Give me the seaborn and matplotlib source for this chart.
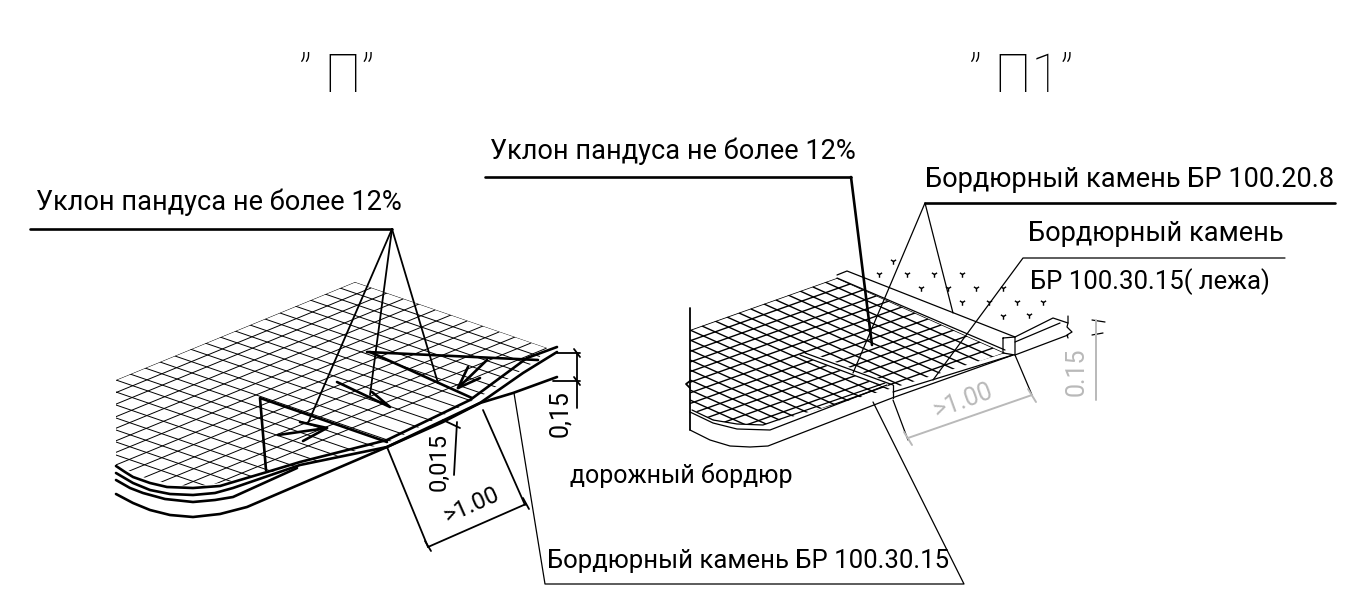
#!/usr/bin/env python3
# ramp details "П" and "П1" redrawn as line work, all coordinates (pixels)
import matplotlib
matplotlib.use('Agg')
import matplotlib.pyplot as plt
from matplotlib.patches import Polygon
import seaborn as sns

sns.set_theme(style='white')
plt.rcParams['font.family'] = ['Roboto', 'DejaVu Sans']
plt.rcParams['text.color'] = 'black'

GREY = '#b9b9b9'

# paving grid, left detail
left_b_x0 = [355,340,325,310,295,280,265,250,235,220,205,190,175,160,145,130,116,116,116,116,116,116,116]
left_b_y0 = [282,288,294,300,306,313,319,325,331,337,343,349,356,362,368,374,380,392,405,418,430,442,455]
left_b_x1 = [635,620,605,590,575,560,545,530,515,500,485,470,455,440,425,410,396,396,396,396,396,396,396]
left_b_y1 = [378,384,390,396,402,409,415,421,427,433,439,445,452,458,464,470,476,488,501,514,526,538,551]
left_a_x0 = [355,371,387,403,419,435,451,467,483,499,515,531,547]
left_a_y0 = [282,288,293,299,304,310,315,321,326,332,337,343,348]
left_a_x1 = [-45,-29,-13,3,19,35,51,67,83,99,115,131,147]
left_a_y1 = [446,452,457,463,468,474,479,485,490,496,501,507,512]
left_outline = [(355,282),(547,348),(537,360),(480,397),(387,443),(300,465),(240,480),(193,487),(150,480),(116,465),(116,380)]

# paving grid, right detail
right_b_x0 = [837,825,813,800,788,776,764,751,739,727,715,702,690,690,690,690,690,690,690,690,690]
right_b_y0 = [278,282,287,291,295,300,304,309,313,317,321,326,330,340,350,360,370,380,390,400,410]
right_b_x1 = [1137,1125,1113,1100,1088,1076,1064,1051,1039,1027,1015,1002,990,990,990,990,990,990,990,990,990]
right_b_y1 = [412,416,421,425,429,434,438,443,447,451,455,460,464,474,484,494,504,514,524,534,544]
right_a_x0 = [837,850,863,876,889,902,915,928,941,954,967,980,993,1005]
right_a_y0 = [278,284,290,296,301,307,313,319,325,330,336,342,348,353]
right_a_x1 = [437,450,463,476,489,502,515,528,541,554,567,580,593,605]
right_a_y1 = [420,426,432,438,443,449,455,461,467,472,478,484,490,495]
right_outline = [(837,278),(1005,353),(893,388),(763,425),(737,424),(713,420),(690,408),(690,330)]
# light strip across the right grid
strip = [(808,355),(885,384)]

# heavy lines
left_heavy = [
    [(116,466),(125,472),(133,477),(150,483),(167,487),(193,488),(220,486),(240,480),(267,472),(300,462),(387,440),(470,400),(527,358),(557,347)],
    [(116,473),(133,483),(150,490),(170,494),(193,495),(215,493),(233,488),(300,465),(387,447),(480,403),(523,373),(557,352)],
    [(116,480),(130,488),(143,493),(165,499),(193,502),(215,500),(233,497),(297,468)],
    [(116,494),(133,503),(150,510),(170,515),(193,517),(220,514),(247,507),(387,447),(443,422),(480,403),(513,393),(557,377)],
    [(387,442),(260,398),(266,470)],
    [(367,352),(538,360)],
    [(370,352),(472,398)],
    [(278,435),(327,428),(300,422)],
    [(327,428),(303,441)],
    [(337,382),(390,407),(372,392)],
    [(487,360),(458,388),(468,367)],
    [(458,388),(480,378)],
    [(30,229),(392,229)],
    [(485,177),(851,177)],
    [(925,203),(1335,203)],
    [(851,177),(872,345)],
]
# medium lines
medium = [
    [(392,229),(308,423)],
    [(392,229),(370,395)],
    [(392,229),(438,383)],
    [(387,447),(428,547)],
    [(483,410),(525,505)],
    [(428,547),(526,504)],
    [(425,541),(431,551)],
    [(523,498),(529,509)],
    [(557,353),(580,353)],
    [(553,381),(580,381)],
    [(577,353),(577,408)],
    [(574,349),(580,357)],
    [(574,377),(580,385)],
    [(443,420),(460,428)],
    [(457,422),(454,475)],
    [(690,308),(690,430)],
    [(690,381),(686,384),(690,388)],
]
# thin lines of the right detail and the leaders
thin = [
    [(692,410),(713,420),(737,424),(763,425),(885,383)],
    [(690,412),(713,423),(737,429),(770,430),(887,385)],
    [(690,430),(710,440),(730,446),(750,447),(768,446),(892,398),(1013,355)],
    [(893,392),(1013,355)],
    [(893,385),(893,398)],
    [(800,355),(880,385)],
    [(805,353),(893,385)],
    [(837,275),(847,271),(1015,337)],
    [(837,278),(1005,350)],
    [(1003,338),(1015,337),(1015,355),(1003,353),(1003,338)],
    [(1015,337),(1053,318),(1068,323)],
    [(1015,342),(1060,323)],
    [(1015,355),(1068,335)],
    [(1068,316),(1068,323),(1067,327),(1072,332),(1067,335),(1068,338)],
    [(1015,355),(1032,395)],
    [(893,400),(908,440)],
    [(925,203),(853,373)],
    [(925,203),(953,313)],
    [(1285,258),(1023,258),(933,380)],
    [(514,393),(545,584),(964,584),(873,402)],
    [(1092,320),(1105,322)],
    [(1092,335),(1103,333)],
]
grey_lines = [
    [(908,438),(1032,395)],
    [(904,432),(912,445)],
    [(1028,389),(1036,402)],
    [(1096,320),(1096,400)],
]

# ground marks behind the kerb
grass_x = [893,879,907,934,962,921,948,976,1003,962,989,1017,1043,1003,1029]
grass_y = [261,274,274,274,274,288,288,288,288,302,302,302,302,316,315]

fig = plt.figure(figsize=(13.48, 6.05), dpi=100)
ax = fig.add_axes([0, 0, 1, 1])


def draw(pts, lw, color='black', **kw):
    xs = [p[0] for p in pts]
    ys = [p[1] for p in pts]
    sns.lineplot(x=xs, y=ys, sort=False, estimator=None, errorbar=None, legend=False,
                 color=color, linewidth=lw, ax=ax, **kw)


def draw_grid(x0, y0, x1, y1, outline, lw):
    clip = Polygon(outline, closed=True, fill=False, edgecolor='none', transform=ax.transData)
    ax.add_patch(clip)
    n = len(ax.lines)
    for a, b, c, d in zip(x0, y0, x1, y1):
        draw([(a, b), (c, d)], lw)
    for line in ax.lines[n:]:
        line.set_clip_path(clip)


draw_grid(left_b_x0, left_b_y0, left_b_x1, left_b_y1, left_outline, 0.7)
draw_grid(left_a_x0, left_a_y0, left_a_x1, left_a_y1, left_outline, 0.7)
draw_grid(right_b_x0, right_b_y0, right_b_x1, right_b_y1, right_outline, 1.0)
draw_grid(right_a_x0, right_a_y0, right_a_x1, right_a_y1, right_outline, 1.0)
draw(strip, 4.5, color='white')

for pts in left_heavy:
    draw(pts, 1.9)
for pts in medium:
    draw(pts, 1.3)
for pts in thin:
    draw(pts, 0.9)
for pts in grey_lines:
    draw(pts, 1.4, color=GREY)

sns.scatterplot(x=grass_x, y=grass_y, marker='1', s=22, color='black', linewidth=1.0, ax=ax, legend=False)

ax.set_xlim(0, 1348)
ax.set_ylim(605, 0)
ax.axis('off')

S = 19.5
ax.text(337, 92, '” П”', fontsize=38, ha='center', va='baseline', fontweight='light')
ax.text(1021, 92, '” П1”', fontsize=38, ha='center', va='baseline', fontweight='light')
ax.text(36, 210, 'Уклон пандуса не более 12%', fontsize=S, va='baseline')
ax.text(490, 159, 'Уклон пандуса не более 12%', fontsize=S, va='baseline')
ax.text(925, 187, 'Бордюрный камень БР 100.20.8', fontsize=S, va='baseline')
ax.text(1028, 241, 'Бордюрный камень', fontsize=S, va='baseline')
ax.text(1030, 289, 'БР 100.30.15( лежа)', fontsize=18.5, va='baseline')
ax.text(570, 483, 'дорожный бордюр', fontsize=18, va='baseline')
ax.text(547, 568, 'Бордюрный камень БР 100.30.15', fontsize=18.5, va='baseline')

ax.text(560, 414, '0,15', fontsize=18, rotation=90, ha='center', va='center')
ax.text(439, 462, '0,015', fontsize=17, rotation=90, ha='center', va='center')
ax.text(472, 505, '>1.00', fontsize=17, rotation=24, ha='center', va='center')
ax.text(963, 401, '>1.00', fontsize=18, rotation=20, ha='center', va='center', color=GREY)
ax.text(1077, 372, '0.15', fontsize=18, rotation=90, ha='center', va='center', color=GREY)

fig.savefig('out.png', dpi=100)
